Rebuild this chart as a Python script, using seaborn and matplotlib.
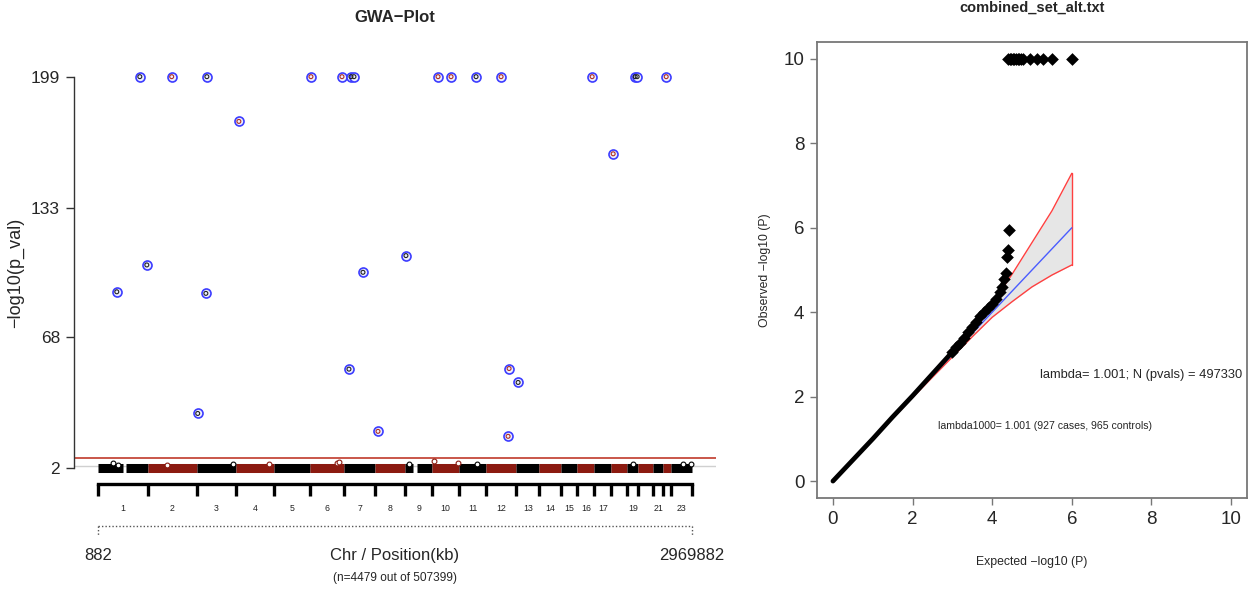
import numpy as np
import pandas as pd
import matplotlib
matplotlib.use("Agg")
import matplotlib.pyplot as plt
import seaborn as sns
from matplotlib.transforms import blended_transform_factory

# ---------------- data ----------------
genome_start_kb = 882
genome_end_kb = 2969882
chrom_len_kb = [250000, 245000, 195000, 190000, 180000, 170000, 155000, 150000, 135000,
                135000, 135000, 150000, 115000, 110000, 80000, 85000, 85000, 80000,
                55000, 75000, 50000, 40000, 104000]
chrom_labels = ['1', '2', '3', '4', '5', '6', '7', '8', '9', '10', '11', '12', '13', '14',
                '15', '16', '17', '', '19', '', '21', '', '23']
# gaps (no SNPs) in the dense baseline cloud, kb
gap_start_kb = [125000, 1575000]
gap_end_kb = [143000, 1597000]
baseline_value = 2.4

hit_pos_kb = [210800, 370000, 545700, 1065500, 1220500, 1265400, 1280400, 1700300, 1765300,
              1890200, 2015200, 2470000, 2684900, 2694900, 2839900,
              705600, 2575000, 245800, 95800, 540700, 500000, 1540000, 1325400, 1255400,
              1400400, 2055200, 2100200, 2050200]
hit_logp = [199, 199, 199, 199, 199, 199, 199, 199, 199,
            199, 199, 199, 199, 199, 199,
            176.5, 160.2, 104.3, 90.8, 90.0, 29.6, 109.0, 100.6, 51.9,
            20.6, 52.2, 45.2, 18.1]

bump_pos_kb = [75850, 100800, 345700, 675600, 855500, 1195400, 1205400, 1555300, 1680300,
               1800200, 1895100, 2674800, 2924700, 2964700]
bump_logp = [4.6, 3.6, 3.8, 4.0, 4.4, 4.6, 5.2, 4.2, 5.8, 4.8, 4.0, 4.4, 4.0, 4.2]

sig_line = 7.3
sug_line = 3.0
y_ticks_left = [2, 68, 133, 199]

# QQ plot
qq_expected = [0.0, 0.5, 1.0, 1.5, 2.0, 2.5, 3.0, 3.1, 3.2, 3.3, 3.4, 3.5, 3.6, 3.7, 3.8,
               3.9, 4.0, 4.1, 4.2, 4.25, 4.3, 4.35]
qq_observed = [0.0, 0.5, 1.0, 1.52, 2.02, 2.54, 3.06, 3.17, 3.28, 3.40, 3.52, 3.64, 3.78,
               3.9, 4.0, 4.1, 4.2, 4.32, 4.48, 4.6, 4.78, 4.92]
qq_tail_expected = [4.38, 4.40, 4.42]
qq_tail_observed = [5.30, 5.48, 5.95]
qq_cap_expected = [4.40, 4.44, 4.48, 4.52, 4.56, 4.60, 4.64, 4.68, 4.72, 4.78, 4.95, 5.12,
                   5.28, 5.51, 6.0]
qq_cap_value = 10
band_x = [0, 2, 3, 3.5, 4, 4.5, 5, 5.5, 6]
band_hi = [0, 2.02, 3.06, 3.6, 4.2, 4.9, 5.65, 6.4, 7.29]
band_lo = [0, 1.98, 2.94, 3.42, 3.88, 4.25, 4.6, 4.88, 5.12]
lambda_text = "lambda= 1.001; N (pvals) = 497330"
lambda1000_text = "lambda1000= 1.001 (927 cases, 965 controls)"

# ---------------- style ----------------
sns.set_theme(style="white")
plt.rcParams['font.family'] = ['Liberation Sans', 'DejaVu Sans']
plt.rcParams['axes.unicode_minus'] = True

DARKRED = '#8B1A10'
BLUE = '#3C3CFF'

fig = plt.figure(figsize=(12.49, 5.92), dpi=100)
axL = fig.add_axes([0.05925, 0.18243, 0.51401, 0.71453])
axR = fig.add_axes([0.65412, 0.15878, 0.34428, 0.77027])

# ---------------- left: GWA plot ----------------
starts = genome_start_kb + np.concatenate([[0], np.cumsum(chrom_len_kb)[:-1]])
ends = starts + np.array(chrom_len_kb)
bounds = np.concatenate([starts, [ends[-1]]])
span = genome_end_kb - genome_start_kb
axL.set_xlim(genome_start_kb - 0.04 * span, genome_end_kb + 0.04 * span)
axL.set_ylim(2 - 0.04 * 197, 199 + 0.04 * 197)

axL.axhline(sug_line, color='#d0d0d0', lw=1.0, zorder=1)
axL.axhline(sig_line, color='#c0392b', lw=1.2, zorder=1)

def chrom_color(i):
    return 'black' if i % 2 == 0 else DARKRED

# baseline dense cloud per chromosome (split at gaps)
for i, (s, e) in enumerate(zip(starts, ends)):
    segs = [[s, e]]
    for gs, ge in zip(gap_start_kb, gap_end_kb):
        new = []
        for a, b in segs:
            if gs > a and ge < b:
                new += [[a, gs], [ge, b]]
            else:
                new.append([a, b])
        segs = new
    for a, b in segs:
        axL.plot([a, b], [baseline_value, baseline_value], color=chrom_color(i), lw=6.5,
                 solid_capstyle='butt', zorder=2)

bdf = pd.DataFrame({'pos': bump_pos_kb, 'val': bump_logp})
bdf['chr'] = np.searchsorted(ends, bdf['pos'])
hdf = pd.DataFrame({'pos': hit_pos_kb, 'val': hit_logp})
hdf['chr'] = np.searchsorted(ends, hdf['pos'])

for parity, col in [(0, 'black'), (1, DARKRED)]:
    sub = bdf[bdf['chr'] % 2 == parity]
    sns.scatterplot(data=sub, x='pos', y='val', ax=axL, marker='o', s=12,
                    facecolor='white', edgecolor=col, linewidth=0.8, zorder=3, legend=False)

sns.scatterplot(data=hdf, x='pos', y='val', ax=axL, marker='o', s=42,
                facecolor='#eef0ff', edgecolor=BLUE, linewidth=1.2, zorder=4, legend=False)
for parity, col in [(0, '#222222'), (1, '#b03020')]:
    sub = hdf[hdf['chr'] % 2 == parity]
    sns.scatterplot(data=sub, x='pos', y='val', ax=axL, marker='o', s=8,
                    facecolor='none', edgecolor=col, linewidth=0.8, zorder=5, legend=False)

for sp in ['top', 'right', 'bottom']:
    axL.spines[sp].set_visible(False)
axL.spines['left'].set_bounds(2, 199)
axL.spines['left'].set_color('#333333')
axL.spines['left'].set_linewidth(1.0)
axL.set_yticks(y_ticks_left)
axL.set_yticklabels([str(v) for v in y_ticks_left])
axL.set_xticks([])
axL.tick_params(axis='y', direction='out', length=6, width=1.0, color='#333333',
                labelsize=12.5, pad=4, left=True)
axL.set_xlabel('')
axL.set_ylabel('')

trans = blended_transform_factory(axL.transData, axL.transAxes)
axL.plot([bounds[0], bounds[-1]], [0, 0], transform=trans, clip_on=False, color='black',
         lw=2.4, solid_capstyle='projecting')
axL.vlines(bounds, -12 / 423, 0, transform=trans, clip_on=False, color='black', lw=2.4)
mids = (starts + ends) / 2
for m, lab in zip(mids, chrom_labels):
    axL.text(m, -0.059, lab, transform=trans, ha='center', va='center', fontsize=6.3,
             color='#222222')
axL.plot([bounds[0], bounds[-1]], [-0.0993, -0.0993], transform=trans, clip_on=False,
         color='#555555', lw=1.0, ls=(0, (1, 1.5)))
for bx in [bounds[0], bounds[-1]]:
    axL.plot([bx, bx], [-0.0993, -0.123], transform=trans, clip_on=False,
             color='#555555', lw=1.0, ls=(0, (1, 1.5)))
axL.text(genome_start_kb, -0.170, str(genome_start_kb), transform=trans, ha='center',
         va='center', fontsize=12)
axL.text(genome_end_kb, -0.170, str(genome_end_kb), transform=trans, ha='center',
         va='center', fontsize=12)
axL.text(0.5, -0.170, 'Chr / Position(kb)', transform=axL.transAxes, ha='center',
         va='center', fontsize=12)
axL.text(0.5, -0.222, '(n=4479 out of 507399)', transform=axL.transAxes, ha='center',
         va='center', fontsize=8.6)
axL.text(0.5, 1.1017, 'GWA\u2212Plot', transform=axL.transAxes, ha='center', va='center',
         fontsize=12, fontweight='bold')
axL.text(-0.0903, 0.5, '\u2212log10(p_val)', transform=axL.transAxes, ha='center',
         va='center', rotation=90, fontsize=13)

# ---------------- right: QQ plot ----------------
axR.set_xlim(-0.4, 10.4)
axR.set_ylim(-0.4, 10.4)
axR.fill_between(band_x, band_lo, band_hi, color='#e6e6e6', lw=0, zorder=1)
sns.lineplot(x=band_x, y=band_hi, ax=axR, color='#ff4040', lw=1.0, zorder=2, sort=False)
sns.lineplot(x=band_x, y=band_lo, ax=axR, color='#ff4040', lw=1.0, zorder=2, sort=False)
axR.plot([band_x[-1], band_x[-1]], [band_lo[-1], band_hi[-1]], color='#ff4040', lw=1.0, zorder=2)
sns.lineplot(x=band_x, y=band_x, ax=axR, color='#4a5cff', lw=1.0, zorder=2, sort=False)

sns.lineplot(x=qq_expected, y=qq_observed, ax=axR, color='black', lw=3.4, zorder=3,
             sort=False)
qdf = pd.DataFrame({'e': qq_expected, 'o': qq_observed})
sns.scatterplot(data=qdf[qdf['e'] >= 3.0], x='e', y='o', ax=axR, marker='D', s=40,
                color='black', edgecolor='black', linewidth=0, zorder=4, legend=False)
sns.scatterplot(x=qq_tail_expected, y=qq_tail_observed, ax=axR, marker='D', s=42,
                color='black', edgecolor='black', linewidth=0, zorder=4, legend=False)
sns.scatterplot(x=qq_cap_expected, y=[qq_cap_value] * len(qq_cap_expected), ax=axR,
                marker='D', s=42, color='black', edgecolor='black', linewidth=0, zorder=4,
                legend=False)

axR.text(7.74, 2.52, lambda_text, ha='center', va='center', fontsize=9.3)
axR.text(5.33, 1.3, lambda1000_text, ha='center', va='center', fontsize=7.6)

axR.set_xticks([0, 2, 4, 6, 8, 10])
axR.set_yticks([0, 2, 4, 6, 8, 10])
for sp in axR.spines.values():
    sp.set_visible(True)
    sp.set_color('#777777')
    sp.set_linewidth(1.3)
axR.tick_params(axis='both', direction='out', length=5, width=1.0, color='#777777',
                labelsize=13.5, bottom=True, left=True, pad=4)
axR.set_xlabel('')
axR.set_ylabel('')
axR.text(0.5, -0.1397, 'Expected \u2212log10 (P)', transform=axR.transAxes, ha='center',
         va='center', fontsize=8.8)
axR.text(-0.121, 0.5, 'Observed \u2212log10 (P)', transform=axR.transAxes, ha='center',
         va='center', rotation=90, fontsize=8.8)
axR.text(0.5, 1.0746, 'combined_set_alt.txt', transform=axR.transAxes, ha='center',
         va='center', fontsize=10.5, fontweight='bold')

fig.savefig('out.png', dpi=100)
